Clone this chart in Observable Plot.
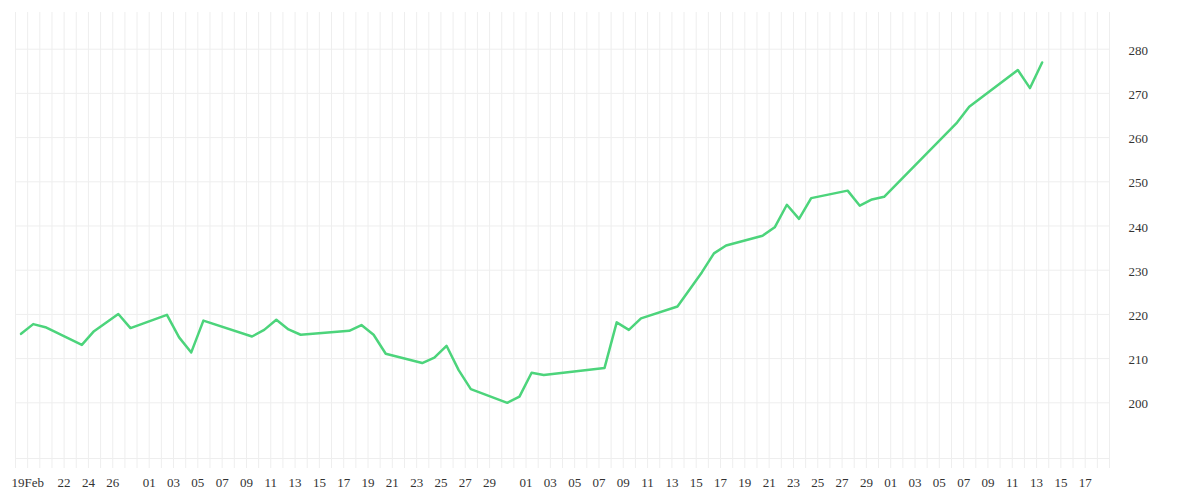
<!DOCTYPE html>
<html>
<head>
<meta charset="utf-8">
<script src="https://cdn.jsdelivr.net/npm/d3@7"></script>
<script src="https://cdn.jsdelivr.net/npm/@observablehq/plot@0.6"></script>
<style>
  html, body { margin: 0; padding: 0; background: #ffffff; }
  #chart svg { display: block; }
</style>
</head>
<body>
<div id="chart"></div>
<script>
// ---- data ----
const dates = [
  "2023-02-18","2023-02-19","2023-02-20","2023-02-23","2023-02-24","2023-02-26","2023-02-27",
  "2023-03-02","2023-03-03","2023-03-04","2023-03-05","2023-03-09","2023-03-10","2023-03-11",
  "2023-03-12","2023-03-13","2023-03-17","2023-03-18","2023-03-19","2023-03-20","2023-03-23",
  "2023-03-24","2023-03-25","2023-03-26","2023-03-27","2023-03-30","2023-03-31","2023-04-01",
  "2023-04-02","2023-04-07","2023-04-08","2023-04-09","2023-04-10","2023-04-13","2023-04-15",
  "2023-04-16","2023-04-17","2023-04-20","2023-04-21","2023-04-22","2023-04-23","2023-04-24",
  "2023-04-27","2023-04-28","2023-04-29","2023-04-30","2023-05-06","2023-05-07","2023-05-11",
  "2023-05-12","2023-05-13"
];
const values = [
  215.6, 217.8, 217.1, 213.1, 216.2, 220.1, 216.9,
  219.9, 214.8, 211.4, 218.6, 215.0, 216.5, 218.8,
  216.6, 215.4, 216.3, 217.6, 215.4, 211.1, 209.0,
  210.2, 212.9, 207.4, 203.1, 200.0, 201.4, 206.8,
  206.3, 207.9, 218.2, 216.5, 219.1, 221.8, 229.5,
  233.8, 235.6, 237.8, 239.7, 244.8, 241.6, 246.3,
  248.0, 244.6, 246.0, 246.6, 263.4, 267.0, 275.3,
  271.2, 277.0
];
const xTickDates = [
  "2023-02-19","2023-02-22","2023-02-24","2023-02-26",
  "2023-03-01","2023-03-03","2023-03-05","2023-03-07","2023-03-09","2023-03-11","2023-03-13","2023-03-15",
  "2023-03-17","2023-03-19","2023-03-21","2023-03-23","2023-03-25","2023-03-27","2023-03-29",
  "2023-04-01","2023-04-03","2023-04-05","2023-04-07","2023-04-09","2023-04-11","2023-04-13","2023-04-15",
  "2023-04-17","2023-04-19","2023-04-21","2023-04-23","2023-04-25","2023-04-27","2023-04-29",
  "2023-05-01","2023-05-03","2023-05-05","2023-05-07","2023-05-09","2023-05-11","2023-05-13","2023-05-15",
  "2023-05-17"
];
const yTicks = [200, 210, 220, 230, 240, 250, 260, 270, 280];
const xDomain = ["2023-02-18", "2023-05-19"];
const yDomain = [187.4, 288.3];

// ---- build ----
const utc = s => new Date(s + "T00:00:00Z");
const data = dates.map((d, i) => ({date: new Date(d + "T11:00:00Z"), value: values[i]}));
const x0 = utc(xDomain[0]), x1 = utc(xDomain[1]);
const days = d3.utcDay.range(x0, d3.utcDay.offset(x1, 1));
const ticks = xTickDates.map(utc);
const gridColor = "#eeeeee";
const textColor = "#333333";

const chart = Plot.plot({
  width: 1200,
  height: 500,
  marginLeft: 15,
  marginRight: 91,
  marginTop: 12,
  marginBottom: 42,
  style: {fontFamily: "'Liberation Serif', serif", fontSize: "13px", color: textColor, background: "#ffffff"},
  x: {type: "utc", domain: [x0, x1]},
  y: {domain: yDomain},
  marks: [
    Plot.ruleX(days, {stroke: gridColor, strokeOpacity: 1, insetBottom: -10}),
    Plot.ruleY(yTicks, {stroke: gridColor, strokeOpacity: 1}),
    Plot.ruleY([yDomain[0]], {stroke: gridColor, strokeOpacity: 1}),
    Plot.axisX({
      ticks: ticks, tickSize: 0, tickPadding: 19, label: null,
      tickFormat: (d, i) => i === 0 ? d3.utcFormat("%d%b")(d) : d3.utcFormat("%d")(d)
    }),
    Plot.axisY({
      anchor: "right", ticks: yTicks, tickSize: 0, tickPadding: 19, label: null,
      textAnchor: "start", dy: 1.5
    }),
    Plot.lineY(data, {x: "date", y: "value", stroke: "#4cd47b", strokeWidth: 2.5, curve: "linear"})
  ]
});
document.getElementById("chart").appendChild(chart);
</script>
</body>
</html>
